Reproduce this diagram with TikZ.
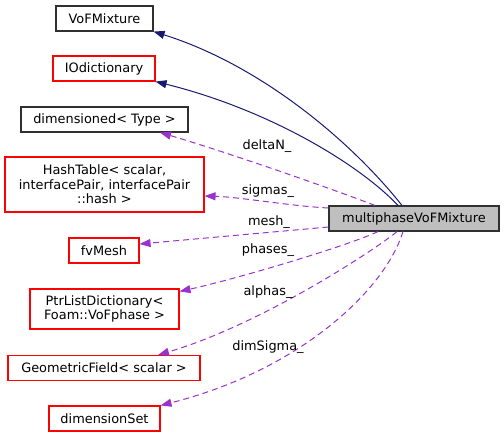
\documentclass[tikz,border=0pt]{standalone}
\usepackage{fontspec}
\setmainfont{DejaVu Sans}
\usetikzlibrary{arrows.meta}
\definecolor{edgeblue}{HTML}{191970}
\definecolor{edgepurple}{HTML}{9A32CD}
\definecolor{mainfill}{HTML}{BFBFBF}
\definecolor{boxline}{HTML}{303030}
\tikzset{
  box/.style={draw=boxline, line width=1.1pt, fill=white, inner sep=0pt, align=center,
    font=\fontsize{12.9}{14.5}\selectfont},
  redbox/.style={box, draw=red},
  mainbox/.style={box, fill=mainfill},
  inherit/.style={draw=edgeblue, line width=1pt, -{Triangle[length=11pt,width=8pt]}, color=edgeblue},
  usage/.style={draw=edgepurple, line width=1pt, dash pattern=on 6pt off 4pt,
    -{Triangle[length=11pt,width=8pt]}, color=edgepurple},
  lbl/.style={inner sep=0pt, font=\fontsize{12.9}{14.5}\selectfont}
}
\begin{document}
\begin{tikzpicture}[x=1pt, y=-1pt]
\useasboundingbox (0,0) rectangle (504,437);
\node[box, minimum width=97pt, minimum height=25pt] (vof) at (104.5,18.5) {VoFMixture};
\node[redbox, minimum width=102pt, minimum height=25pt] (iod) at (104,68.5) {IOdictionary};
\node[box, minimum width=167pt, minimum height=25pt] (dim) at (104.5,119.5) {dimensioned< Type >};
\node[redbox, minimum width=199pt, minimum height=55pt] (hash) at (104.5,184.5) {HashTable< scalar,\\ interfacePair, interfacePair\\::hash >};
\node[redbox, minimum width=70pt, minimum height=25pt] (fv) at (104,250.5) {fvMesh};
\node[redbox, minimum width=149pt, minimum height=40pt] (ptr) at (104.5,309) {PtrListDictionary<\\ Foam::VoFphase >};
\node[redbox, minimum width=192pt, minimum height=25pt] (geo) at (104,368) {GeometricField< scalar >};
\node[redbox, minimum width=111pt, minimum height=25pt] (dset) at (104.5,418.5) {dimensionSet};
\node[mainbox, minimum width=170pt, minimum height=25pt] (mvm) at (414,218.5) {multiphaseVoFMixture};

\draw[inherit] ([xshift=-12pt]mvm.north) .. controls (350,140) and (260,65) .. (vof.south east);
\draw[inherit] ([xshift=-16pt]mvm.north) .. controls (360,165) and (270,110) .. (iod.south east);

\draw[usage] ([xshift=-39pt]mvm.north) .. controls (330,188) and (220,150) .. ([xshift=55.5pt]dim.south);
\draw[usage] ([yshift=10.5pt]mvm.west) .. controls (290,206) and (240,197) .. ([yshift=-11.5pt]hash.east);
\draw[usage] ([yshift=-8.5pt]mvm.west) -- ([yshift=6.5pt]fv.east);
\draw[usage] ([xshift=-36pt]mvm.south) .. controls (350,245) and (240,278) .. ([yshift=-3pt]ptr.north east);
\draw[usage] ([xshift=-17pt]mvm.south) .. controls (375,250) and (260,325) .. ([xshift=54pt]geo.north);
\draw[usage] ([xshift=-11pt]mvm.south) .. controls (385,290) and (300,370) .. (dset.north east);

\node[lbl] (l1) at (267,146) {deltaN\_};
\node[lbl] (l2) at (268,191) {sigmas\_};
\node[lbl] (l3) at (269,222) {mesh\_};
\node[lbl] (l4) at (268,250) {phases\_};
\node[lbl] (l5) at (268,292) {alphas\_};
\node[lbl] (l6) at (268,347) {dimSigma\_};
\end{tikzpicture}
\end{document}
